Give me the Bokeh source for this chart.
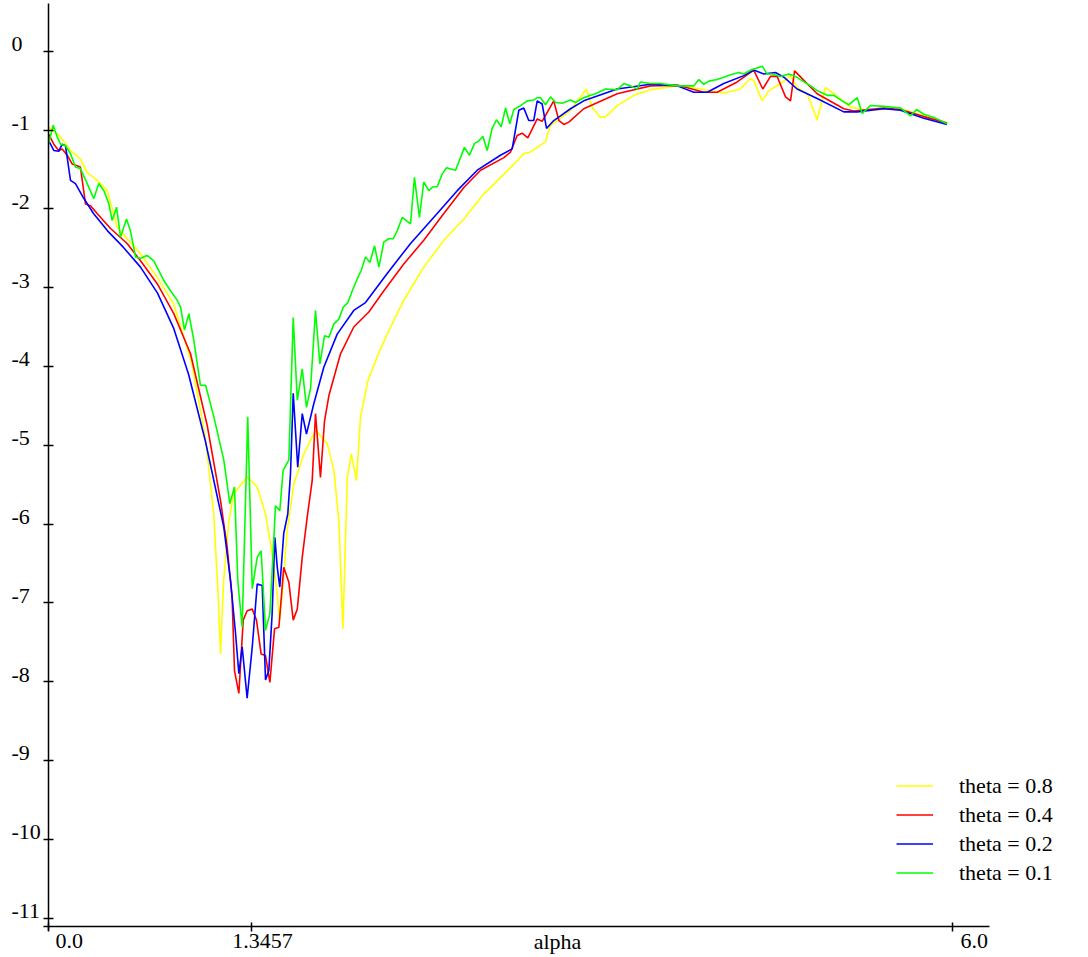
from bokeh.plotting import figure
from bokeh.models import Range1d, FixedTicker, Label, Legend, LegendItem
from bokeh.embed import file_html
from bokeh.resources import INLINE

series_names = ["theta = 0.8", "theta = 0.4", "theta = 0.2", "theta = 0.1"]
series_colors = ["#ffff00", "#ff0000", "#0000ff", "#00ff00"]

x_08 = [0.0, 0.080, 0.146, 0.212, 0.257, 0.323, 0.390, 0.456, 0.522, 0.611, 0.722, 0.832, 0.950, 1.042,
        1.097, 1.124, 1.142, 1.163, 1.197, 1.230, 1.319, 1.386, 1.441, 1.485, 1.519, 1.534, 1.552, 1.585,
        1.629, 1.696, 1.773, 1.851, 1.895, 1.928, 1.955, 1.984, 2.011, 2.045, 2.072, 2.121, 2.190, 2.249,
        2.359, 2.492, 2.625, 2.758, 2.891, 3.024, 3.112, 3.156, 3.200, 3.300, 3.333, 3.378, 3.466, 3.572,
        3.610, 3.665, 3.699, 3.776, 3.887, 3.997, 4.175, 4.330, 4.484, 4.595, 4.657, 4.683, 4.739, 4.783,
        4.861, 4.927, 4.971, 5.038, 5.104, 5.159, 5.215, 5.325, 5.436, 5.546, 5.657, 5.812, 5.967]
y_08 = [-0.96, -1.09, -1.26, -1.37, -1.54, -1.64, -1.77, -2.23, -2.38, -2.57, -2.87, -3.21, -3.95, -4.90,
        -5.87, -6.80, -7.65, -6.72, -5.96, -5.62, -5.40, -5.53, -5.87, -6.38, -6.89, -7.22, -6.89, -6.08,
        -5.49, -5.11, -4.81, -4.98, -5.32, -5.96, -7.33, -5.41, -5.11, -5.45, -4.64, -4.18, -3.84, -3.59,
        -3.16, -2.74, -2.40, -2.13, -1.81, -1.56, -1.39, -1.30, -1.28, -1.15, -0.94, -0.88, -0.75, -0.48,
        -0.71, -0.84, -0.83, -0.69, -0.56, -0.49, -0.44, -0.48, -0.53, -0.48, -0.35, -0.37, -0.63, -0.50,
        -0.41, -0.31, -0.46, -0.54, -0.87, -0.46, -0.54, -0.71, -0.75, -0.74, -0.73, -0.82, -0.91]

x_04 = [0.0, 0.035, 0.068, 0.091, 0.124, 0.157, 0.212, 0.246, 0.279, 0.323, 0.412, 0.522, 0.611, 0.722,
        0.832, 0.943, 1.054, 1.142, 1.186, 1.219, 1.235, 1.264, 1.293, 1.319, 1.353, 1.381, 1.412, 1.441,
        1.470, 1.501, 1.530, 1.562, 1.596, 1.625, 1.652, 1.685, 1.718, 1.751, 1.773, 1.806, 1.833, 1.862,
        1.939, 2.027, 2.127, 2.227, 2.359, 2.492, 2.625, 2.758, 2.869, 3.024, 3.068, 3.112, 3.145, 3.183,
        3.245, 3.278, 3.355, 3.389, 3.422, 3.455, 3.554, 3.776, 3.997, 4.175, 4.351, 4.440, 4.573, 4.683,
        4.743, 4.794, 4.838, 4.894, 4.927, 4.954, 5.016, 5.104, 5.281, 5.347, 5.546, 5.657, 5.812, 5.967]
y_04 = [-1.05, -1.18, -1.26, -1.24, -1.32, -1.43, -1.47, -1.94, -1.96, -2.06, -2.25, -2.44, -2.66, -2.95,
        -3.33, -3.84, -4.75, -5.70, -6.29, -6.93, -7.86, -8.15, -7.22, -7.10, -7.08, -7.22, -7.65, -7.67,
        -8.01, -7.33, -7.31, -6.55, -6.74, -7.22, -7.08, -6.42, -5.91, -5.45, -4.60, -5.41, -4.69, -4.37,
        -3.84, -3.50, -3.31, -3.04, -2.70, -2.40, -2.06, -1.73, -1.51, -1.35, -1.28, -1.07, -1.04, -1.10,
        -0.86, -0.89, -0.63, -0.88, -0.93, -0.90, -0.73, -0.54, -0.44, -0.43, -0.52, -0.52, -0.39, -0.24,
        -0.48, -0.32, -0.32, -0.58, -0.63, -0.25, -0.37, -0.54, -0.73, -0.76, -0.72, -0.74, -0.83, -0.91]

x_02 = [0.0, 0.035, 0.068, 0.091, 0.113, 0.146, 0.179, 0.232, 0.299, 0.392, 0.498, 0.611, 0.724, 0.830,
        0.930, 1.042, 1.164, 1.209, 1.242, 1.264, 1.286, 1.319, 1.353, 1.386, 1.419, 1.441, 1.463, 1.485,
        1.503, 1.519, 1.536, 1.562, 1.589, 1.607, 1.625, 1.655, 1.685, 1.713, 1.762, 1.828, 1.917, 2.027,
        2.105, 2.249, 2.404, 2.581, 2.714, 2.847, 3.001, 3.079, 3.123, 3.156, 3.189, 3.222, 3.245, 3.278,
        3.307, 3.355, 3.400, 3.466, 3.554, 3.776, 3.997, 4.175, 4.285, 4.374, 4.484, 4.617, 4.683, 4.750,
        4.827, 4.883, 4.971, 5.104, 5.281, 5.370, 5.546, 5.657, 5.812, 5.967]
y_02 = [-1.13, -1.26, -1.27, -1.18, -1.20, -1.64, -1.68, -1.86, -2.06, -2.28, -2.49, -2.74, -3.07, -3.51,
        -4.10, -4.95, -6.04, -6.72, -7.39, -7.90, -7.56, -8.21, -7.56, -6.76, -6.78, -7.98, -7.86, -7.14,
        -6.17, -6.55, -6.80, -6.12, -5.87, -5.36, -4.34, -5.28, -4.60, -4.86, -4.47, -4.01, -3.59, -3.29,
        -3.19, -2.82, -2.44, -2.06, -1.77, -1.51, -1.32, -1.24, -0.75, -0.72, -0.88, -0.88, -0.63, -0.67,
        -0.98, -0.88, -0.82, -0.73, -0.63, -0.48, -0.42, -0.44, -0.52, -0.52, -0.41, -0.31, -0.24, -0.29,
        -0.27, -0.33, -0.48, -0.60, -0.77, -0.77, -0.73, -0.75, -0.85, -0.93]

x_01 = [0.0, 0.031, 0.058, 0.080, 0.113, 0.146, 0.179, 0.212, 0.257, 0.301,
        0.334, 0.368, 0.401, 0.423, 0.452, 0.478, 0.518, 0.544, 0.578, 0.611,
        0.655, 0.699, 0.766, 0.810, 0.855, 0.877, 0.903, 0.932, 0.965, 1.009,
        1.043, 1.098, 1.164, 1.204, 1.235, 1.257, 1.286, 1.323, 1.353, 1.386,
        1.412, 1.441, 1.470, 1.497, 1.507, 1.536, 1.558, 1.596, 1.625, 1.652,
        1.685, 1.713, 1.740, 1.773, 1.802, 1.833, 1.862, 1.895, 1.928, 1.957,
        1.988, 2.017, 2.050, 2.077, 2.105, 2.134, 2.165, 2.194, 2.227, 2.260,
        2.289, 2.315, 2.349, 2.404, 2.430, 2.463, 2.492, 2.525, 2.554, 2.581,
        2.614, 2.643, 2.703, 2.762, 2.795, 2.829, 2.857, 2.884, 2.913, 2.946,
        2.975, 3.006, 3.035, 3.063, 3.090, 3.134, 3.179, 3.222, 3.245, 3.267,
        3.300, 3.333, 3.367, 3.411, 3.466, 3.499, 3.554, 3.599, 3.632, 3.699,
        3.776, 3.820, 3.865, 3.909, 3.931, 3.997, 4.064, 4.175, 4.285, 4.318,
        4.351, 4.385, 4.440, 4.484, 4.529, 4.584, 4.617, 4.661, 4.695, 4.739,
        4.772, 4.805, 4.861, 4.916, 4.960, 4.993, 5.060, 5.104, 5.171, 5.215,
        5.270, 5.314, 5.370, 5.403, 5.458, 5.546, 5.657, 5.724, 5.764, 5.812,
        5.879, 5.967]
y_01 = [-1.18, -0.94, -1.09, -1.18, -1.20, -1.30, -1.47, -1.49, -1.68, -1.87,
        -1.68, -1.77, -1.94, -2.15, -1.98, -2.36, -2.13, -2.28, -2.61, -2.63,
        -2.59, -2.66, -2.91, -3.04, -3.16, -3.25, -3.54, -3.33, -3.67, -4.24,
        -4.24, -4.64, -5.19, -5.74, -5.53, -6.72, -7.31, -4.64, -6.82, -6.42,
        -6.34, -7.35, -7.14, -6.17, -5.77, -5.83, -5.32, -5.19, -3.38, -4.43,
        -4.03, -4.52, -4.28, -3.29, -3.97, -3.61, -3.63, -3.46, -3.40, -3.25,
        -3.19, -3.04, -2.89, -2.78, -2.61, -2.68, -2.47, -2.74, -2.42, -2.38,
        -2.38, -2.28, -2.11, -2.19, -1.60, -2.11, -1.66, -1.77, -1.72, -1.72,
        -1.56, -1.48, -1.51, -1.22, -1.32, -1.17, -1.14, -1.08, -1.26, -0.98,
        -0.87, -0.96, -0.72, -0.92, -0.74, -0.69, -0.63, -0.62, -0.59, -0.59,
        -0.68, -0.58, -0.65, -0.66, -0.62, -0.65, -0.59, -0.56, -0.54, -0.48,
        -0.49, -0.41, -0.44, -0.48, -0.39, -0.41, -0.41, -0.44, -0.44, -0.36,
        -0.42, -0.38, -0.36, -0.33, -0.30, -0.27, -0.29, -0.24, -0.22, -0.19,
        -0.29, -0.29, -0.32, -0.29, -0.32, -0.36, -0.44, -0.50, -0.56, -0.56,
        -0.63, -0.68, -0.59, -0.79, -0.69, -0.70, -0.72, -0.82, -0.74, -0.80,
        -0.84, -0.92]

y_ticks = [0, -1, -2, -3, -4, -5, -6, -7, -8, -9, -10, -11]
y_tick_labels = ["0", "-1", "-2", "-3", "-4", "-5", "-6", "-7", "-8", "-9", "-10", "-11"]
x_ticks = [0.0, 1.3457, 6.0]
x_tick_labels = ["0.0", "1.3457", "6.0"]
x_axis_label = "alpha"

FONT = "Liberation Serif"
FSIZE = "22px"

# the plot frame covers the whole canvas; the axes are pinned at x=0 and y=-11.111
p = figure(frame_width=1080, frame_height=954,
           x_range=Range1d(-0.3187, 6.8526), y_range=Range1d(-11.463, 0.6434),
           min_border=0, min_border_left=0, min_border_right=0, min_border_top=0, min_border_bottom=0,
           output_backend="svg", toolbar_location=None, background_fill_color="white",
           border_fill_color="white")
p.outline_line_color = None
p.xgrid.visible = False
p.ygrid.visible = False

for ax in (p.xaxis[0], p.yaxis[0]):
    ax.axis_line_color = "black"
    ax.axis_line_width = 1.5
    ax.major_tick_line_color = "black"
    ax.major_tick_line_width = 1.5
    ax.minor_tick_line_color = None
    ax.major_label_text_font_size = "1px"
    ax.major_label_text_alpha = 0
    ax.major_label_standoff = 0

yax = p.yaxis[0]
yax.fixed_location = 0.0
yax.bounds = (-11.16, 0.605)
yax.ticker = FixedTicker(ticks=y_ticks)
yax.major_label_overrides = {t: "" for t in y_ticks}
yax.major_tick_in = 5
yax.major_tick_out = 5

xax = p.xaxis[0]
xax.fixed_location = -11.111
xax.bounds = (-0.033, 6.248)
xax.ticker = FixedTicker(ticks=x_ticks)
xax.major_label_overrides = {t: "" for t in x_ticks}
xax.major_tick_in = 4
xax.major_tick_out = 5

xs = [x_08, x_04, x_02, x_01]
ys = [y_08, y_04, y_02, y_01]
renderers = []
for xv, yv, c in zip(xs, ys, series_colors):
    renderers.append(p.line(xv, yv, line_color=c, line_width=1.6))

# y tick labels: left aligned, text sitting just above each tick
for t, lab in zip(y_ticks, y_tick_labels):
    p.add_layout(Label(x=-0.2457, y=t + 0.088, text=lab, text_font=FONT, text_font_size=FSIZE,
                       text_align="left", text_baseline="middle", text_color="black"))

# x tick labels and axis title
x_label_pos = [0.0465, 1.421, 6.056]
x_label_align = ["left", "center", "left"]
for xp, lab, al in zip(x_label_pos, x_tick_labels, x_label_align):
    p.add_layout(Label(x=xp, y=-11.293, text=lab, text_font=FONT, text_font_size=FSIZE,
                       text_align=al, text_baseline="middle", text_color="black"))
p.add_layout(Label(x=3.38, y=-11.293, text=x_axis_label, text_font=FONT, text_font_size=FSIZE,
                   text_align="center", text_baseline="middle", text_color="black"))

legend = Legend(items=[LegendItem(label=n, renderers=[r]) for n, r in zip(series_names, renderers)],
                location=(896, 67), orientation="vertical",
                glyph_width=37, glyph_height=29, label_height=29, label_standoff=26,
                spacing=0, padding=0, margin=0,
                border_line_color=None, background_fill_alpha=0,
                label_text_font=FONT, label_text_font_size=FSIZE,
                label_text_baseline="middle", label_text_color="black")
p.add_layout(legend)

open("out.html", "w").write(file_html(p, INLINE))
